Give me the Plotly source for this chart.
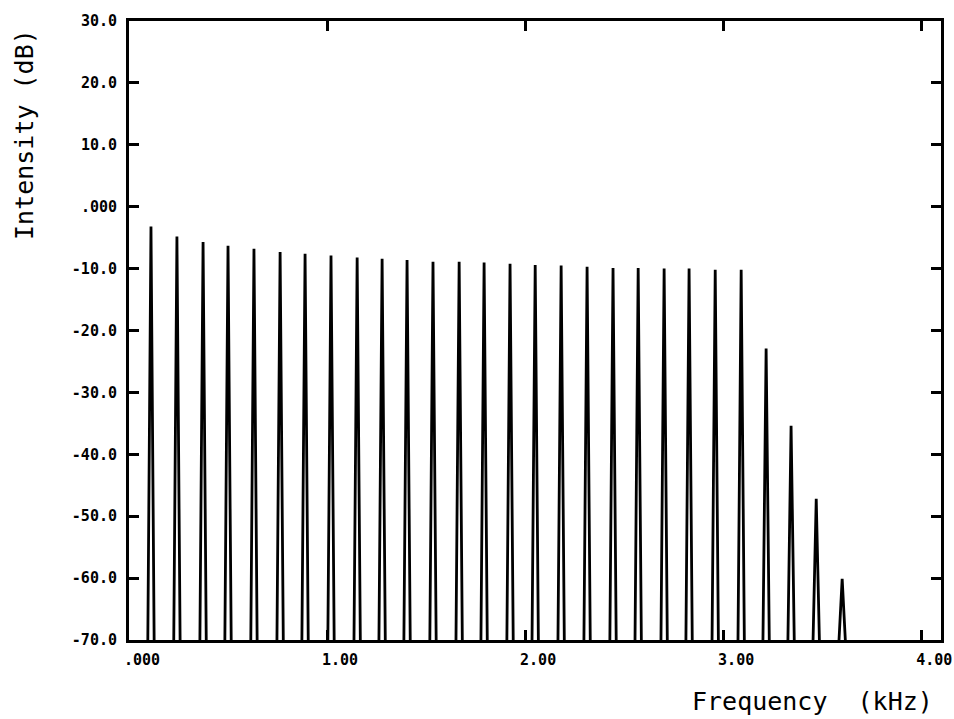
import plotly.graph_objects as go

# Harmonic peak frequencies (kHz) and intensities (dB)
freq_khz = [0.111, 0.242, 0.374, 0.500, 0.631, 0.763, 0.889, 1.020, 1.152, 1.278,
            1.404, 1.535, 1.667, 1.793, 1.924, 2.051, 2.182, 2.313, 2.444, 2.571,
            2.702, 2.828, 2.960, 3.091, 3.217, 3.343, 3.470, 3.601]
level_db = [-3.2, -4.8, -5.7, -6.3, -6.8, -7.3, -7.6, -7.9, -8.2, -8.4,
            -8.6, -8.9, -8.9, -9.0, -9.2, -9.4, -9.5, -9.7, -9.9, -9.9,
            -10.0, -10.0, -10.2, -10.2, -22.9, -35.4, -47.2, -60.1]

x_tickvals = [0, 1, 2, 3, 4]
x_ticktext = [".000", "1.00", "2.00", "3.00", "4.00"]
y_tickvals = [30, 20, 10, 0, -10, -20, -30, -40, -50, -60, -70]
y_ticktext = ["30.0", "20.0", "10.0", ".000", "-10.0", "-20.0", "-30.0",
              "-40.0", "-50.0", "-60.0", "-70.0"]

floor_db = -70.0
half_width = 0.016  # kHz, half base of each spectral spike

xs, ys = [], []
for f, v in zip(freq_khz, level_db):
    xs += [f - half_width, f, f + half_width, None]
    ys += [floor_db, v, floor_db, None]

fig = go.Figure()
fig.add_trace(go.Scatter(x=xs, y=ys, mode="lines",
                         line=dict(color="black", width=2.8),
                         hoverinfo="skip", showlegend=False))

tick_font = dict(family="DejaVu Sans Mono", size=15, color="black", weight="bold")

fig.update_layout(
    width=954, height=719,
    margin=dict(l=129, r=13, t=21, b=79),
    paper_bgcolor="white", plot_bgcolor="white",
    xaxis=dict(range=[0, 4.1], tickvals=x_tickvals, ticktext=x_ticktext,
               automargin=False,
               showgrid=False, zeroline=False, showline=True, linecolor="black",
               linewidth=3, mirror="ticks", ticks="inside", ticklen=10,
               tickwidth=2.5, tickcolor="black", tickfont=tick_font,
               ticklabelshift=13, ticklabelstandoff=4),
    yaxis=dict(range=[-70, 30], tickvals=y_tickvals, ticktext=y_ticktext,
               automargin=False,
               showgrid=False, zeroline=False, showline=True, linecolor="black",
               linewidth=3, mirror="ticks", ticks="inside", ticklen=10,
               tickwidth=2.5, tickcolor="black", tickfont=tick_font,
               ticklabelstandoff=6),
    annotations=[
        dict(text="Intensity (dB)", xref="paper", yref="paper",
             x=-0.128, y=0.816, xanchor="center", yanchor="middle",
             textangle=-90, showarrow=False,
             font=dict(family="DejaVu Sans Mono", size=25, color="black")),
        dict(text="Frequency\u00a0\u00a0(kHz)", xref="paper", yref="paper",
             x=0.9926, y=-0.100, xanchor="right", yanchor="middle",
             showarrow=False,
             font=dict(family="DejaVu Sans Mono", size=25, color="black")),
    ],
)

fig.write_html("out.html")
